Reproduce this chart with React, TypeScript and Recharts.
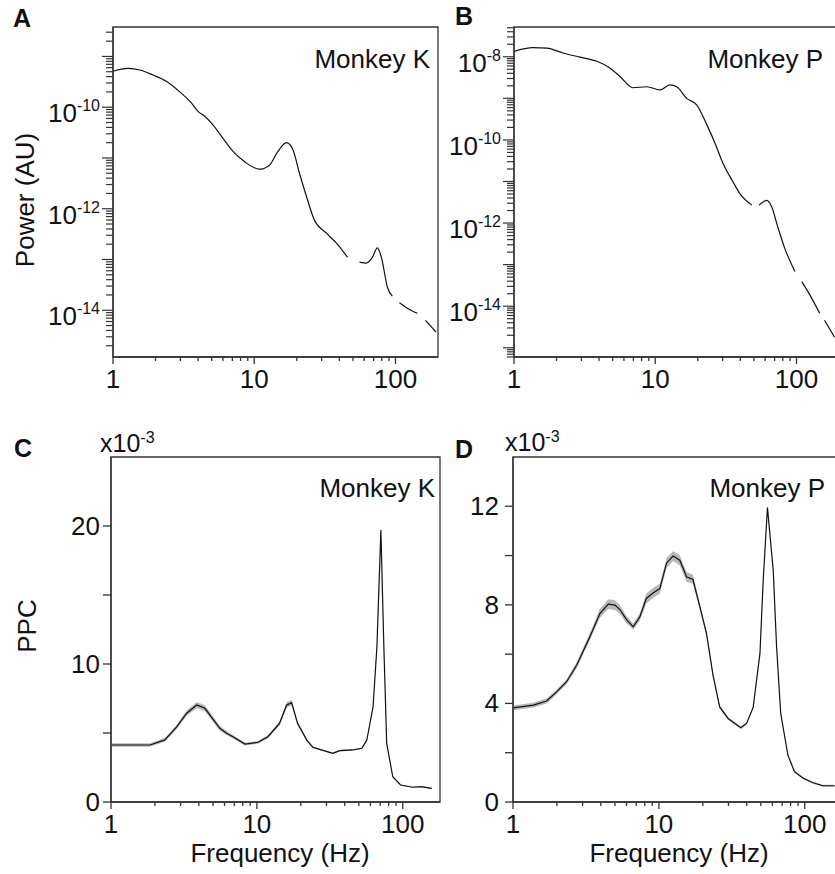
import React from 'react';
import { LineChart, ComposedChart, Line, Area, XAxis, YAxis, ReferenceArea } from 'recharts';

const FONT = '"Liberation Sans", Arial, Helvetica, sans-serif';
const INK = '#111';
const AXIS = '#333';

// A: power spectrum, monkey K (gaps = removed line-noise bands)
const freqA = [1, 1.28, 1.55, 1.92, 2.4, 2.97, 3.6, 4.0, 4.5, 5.0, 5.9, 7.0, 8.6, 10.9, 12.8, 14.6, 16.9, 18.7, 20.9, 23.5, 26.7,
  32.4, 38.2, 45.8, 50, 55.6, 62, 68.6, 74.4, 79.5, 87.8, 95, 100, 106.6, 121, 143, 150, 163, 194];
const powerA = [5.1e-10, 5.8e-10, 5.4e-10, 4.3e-10, 3.2e-10, 2.0e-10, 1.2e-10, 8.3e-11, 6.5e-11, 4.8e-11, 2.6e-11,
  1.4e-11, 8.3e-12, 6.0e-12, 7.2e-12, 1.3e-11, 2.0e-11, 1.5e-11, 5.0e-12, 1.7e-12, 5.9e-13,
  3.3e-13, 2.1e-13, 1.1e-13, null, 8.9e-14, 8.5e-14, 1.1e-13, 1.7e-13, 1.1e-13, 2.8e-14,
  1.9e-14, null, 1.4e-14, 1.1e-14, 8.7e-15, null, 6.3e-15, 3.7e-15];

// B: power spectrum, monkey P
const freqB = [1.0, 1.36, 1.71, 2.22, 2.93, 3.86, 4.77, 5.6, 6.95, 8.7, 10.8, 12.7, 14.2, 16.7, 19.7, 23.2, 26.5, 30.1, 35.4, 39.6,
  48.4, 51, 54.3, 61.6, 66.6, 73.7, 82.5, 97.5, 103, 109, 124, 146, 152, 158, 186];
const powerB = [1.35e-8, 1.66e-8, 1.62e-8, 1.23e-8, 9.8e-9, 7.8e-9, 5.4e-9, 3.4e-9, 1.8e-9, 1.9e-9,
  1.6e-9, 2.1e-9, 1.9e-9, 1.0e-9, 6.9e-10, 2.3e-10, 8.3e-11, 2.8e-11, 1.0e-11, 5.2e-12,
  2.7e-12, null, 2.7e-12, 3.5e-12, 2.5e-12, 8.1e-13, 2.5e-13, 6.8e-14, null, 3.9e-14,
  1.9e-14, 6.8e-15, null, 4.6e-15, 1.8e-15];

// C: PPC (x10^-3), monkey K
const freqC = [1, 1.85, 2.34, 2.83, 3.3, 3.87, 4.4, 5.57, 6.2, 6.85, 8.28, 10.2, 11.9, 14.3, 16.0, 17.3, 19.0, 22, 24.2, 33.1,
  37, 45.2, 52.4, 56.7, 62.6, 66.5, 70.8, 74.2, 77.6, 85.4, 96.6, 117, 134, 158];
const ppcC = [4.13, 4.13, 4.5, 5.46, 6.43, 7.03, 6.79, 5.34, 4.98, 4.73, 4.2, 4.33, 4.73, 5.7, 7.03, 7.2, 5.7, 4.49, 3.96, 3.53,
  3.72, 3.77, 3.89, 4.49, 6.9, 11.25, 19.7, 11.25, 4.25, 1.83, 1.23, 1.07, 1.11, 0.99];
const semC = [0.12, 0.12, 0.13, 0.15, 0.2, 0.22, 0.22, 0.18, 0.15, 0.13, 0.1, 0.1, 0.12, 0.15, 0.2, 0.2, 0.15, 0.1, 0.08, 0.06,
  0.06, 0.06, 0.06, 0.08, 0.1, 0.12, 0.15, 0.12, 0.08, 0.05, 0.04, 0.04, 0.04, 0.04];

// D: PPC (x10^-3), monkey P
const freqD = [1, 1.38, 1.7, 1.99, 2.33, 2.73, 3.36, 3.94, 4.5, 5.0, 5.4, 6.0, 6.67, 7.4, 8.2, 9.12, 10.15, 11.3, 12.5, 13.9,
  15.5, 17.1, 18.6, 21.2, 23.5, 26.1, 29.8, 36.4, 39.9, 44.3, 49.3, 51.9, 55.5, 60.8, 64.1, 68.4, 76.6, 85.0, 97.7, 114, 133, 160];
const ppcD = [3.82, 3.93, 4.1, 4.47, 4.88, 5.55, 6.7, 7.65, 8.03, 7.99, 7.81, 7.4, 7.11, 7.51, 8.26, 8.48, 8.66, 9.7, 9.98, 9.81,
  9.13, 9.04, 8.19, 6.84, 5.15, 3.86, 3.39, 3.01, 3.19, 3.84, 6.03, 9.0, 11.95, 9.4, 6.3, 3.6, 1.9, 1.23, 0.96, 0.78, 0.66, 0.66];
const semD = [0.1, 0.1, 0.1, 0.1, 0.1, 0.12, 0.15, 0.18, 0.2, 0.2, 0.18, 0.15, 0.12, 0.15, 0.2, 0.2, 0.2, 0.2, 0.2, 0.2,
  0.2, 0.18, 0.15, 0.1, 0.08, 0.06, 0.05, 0.05, 0.05, 0.05, 0.05, 0.05, 0.05, 0.05, 0.05, 0.04, 0.04, 0.04, 0.04, 0.04, 0.04, 0.04];

const freqTicks = [1, 2, 3, 4, 5, 6, 7, 8, 9, 10, 20, 30, 40, 50, 60, 70, 80, 90, 100];
const freqLabels = [1, 10, 100];
const powerLabelsA = [-10, -12, -14];
const powerLabelsB = [-8, -10, -12, -14];
const ppcTicksC = [0, 5, 10, 15, 20];
const ppcLabelsC = [0, 10, 20];
const ppcTicksD = [0, 2, 4, 6, 8, 10, 12];
const ppcLabelsD = [0, 4, 8, 12];

const dataA = freqA.map((f, i) => ({ f, p: powerA[i] }));
const dataB = freqB.map((f, i) => ({ f, p: powerB[i] }));
const dataC = freqC.map((f, i) => ({ f, v: ppcC[i], band: [ppcC[i] - semC[i], ppcC[i] + semC[i]] }));
const dataD = freqD.map((f, i) => ({ f, v: ppcD[i], band: [ppcD[i] - semD[i], ppcD[i] + semD[i]] }));

const logTicks = (lo, hi) => {
  const out = [];
  for (let e = -17; e <= -5; e++) {
    for (let k = 1; k <= 9; k++) {
      const v = k * Math.pow(10, e);
      if (v >= lo && v <= hi) out.push(v);
    }
  }
  return out;
};

const FreqTick = ({ x, y, payload }) => {
  const v = payload.value;
  const major = freqLabels.includes(v);
  return (
    <g>
      <line x1={x} x2={x} y1={y} y2={y + (major ? 7 : 4)} stroke={AXIS} strokeWidth={1.3} />
      {major && (
        <text x={x} y={y + 31} textAnchor="middle" fontSize={26} fill={INK} fontFamily={FONT}>{v}</text>
      )}
    </g>
  );
};

const PowerTick = ({ x, y, payload, labeled }) => {
  const v = payload.value;
  const e = Math.floor(Math.log10(v) + 1e-6);
  const decade = Math.abs(v / Math.pow(10, e) - 1) < 1e-6;
  return (
    <g>
      <line x1={x} x2={x - (decade ? 11 : 7)} y1={y} y2={y} stroke={AXIS} strokeWidth={1.2} />
      {decade && labeled.includes(e) && (
        <text x={x - 13} y={y + 15} textAnchor="end" fontSize={26} fill={INK} fontFamily={FONT}>
          10<tspan fontSize={16} dy={-11}>{e}</tspan>
        </text>
      )}
    </g>
  );
};

const PpcTick = ({ x, y, payload, labeled, gap }) => {
  const v = payload.value;
  return (
    <g>
      <line x1={x} x2={x - 8} y1={y} y2={y} stroke={AXIS} strokeWidth={1.3} />
      {labeled.includes(v) && (
        <text x={x - gap} y={y + 9} textAnchor="end" fontSize={26} fill={INK} fontFamily={FONT}>{v}</text>
      )}
    </g>
  );
};

const axisLine = { stroke: AXIS, strokeWidth: 1.3 };

const PowerPanel = ({ data, yDomain, labeled, left, yWidth, right }) => (
  <div style={{ position: 'absolute', left, top: 0 }}>
    <LineChart width={left ? 440 : 460} height={420} data={data} margin={{ top: 27, right, bottom: 0, left: 0 }}>
      <XAxis dataKey="f" type="number" scale="log" domain={[1, 200]} allowDataOverflow ticks={freqTicks}
        interval={0} height={63} tickSize={0} tickMargin={0} tickLine={false} axisLine={axisLine}
        tick={(p) => <FreqTick {...p} />} />
      <YAxis type="number" scale="log" domain={yDomain} allowDataOverflow ticks={logTicks(yDomain[0], yDomain[1])}
        interval={0} width={yWidth} tickSize={0} tickMargin={0} tickLine={false} axisLine={axisLine}
        tick={(p) => <PowerTick {...p} labeled={labeled} />} />
      <ReferenceArea x1={1} x2={200} y1={yDomain[0]} y2={yDomain[1]} fill="none" stroke={AXIS} strokeWidth={1.3} ifOverflow="visible" />
      <Line dataKey="p" type="monotone" stroke={INK} strokeWidth={1.2} dot={false} connectNulls={false} isAnimationActive={false} />
    </LineChart>
  </div>
);

const PpcPanel = ({ data, yMax, ticks, labeled, gap, left, yWidth, right }) => (
  <div style={{ position: 'absolute', left, top: 380 }}>
    <ComposedChart width={left ? 440 : 460} height={494} data={data} margin={{ top: 77, right, bottom: 0, left: 0 }}>
      <XAxis dataKey="f" type="number" scale="log" domain={[1, 180]} allowDataOverflow ticks={freqTicks}
        interval={0} height={72} tickSize={0} tickMargin={0} tickLine={false} axisLine={axisLine}
        tick={(p) => <FreqTick {...p} />} />
      <YAxis type="number" domain={[0, yMax]} allowDataOverflow ticks={ticks} interval={0} width={yWidth}
        tickSize={0} tickMargin={0} tickLine={false} axisLine={axisLine}
        tick={(p) => <PpcTick {...p} labeled={labeled} gap={gap} />} />
      <ReferenceArea x1={1} x2={180} y1={0} y2={yMax} fill="none" stroke={AXIS} strokeWidth={1.3} ifOverflow="visible" />
      <Area dataKey="band" type="linear" stroke="none" fill="#9a9a9a" fillOpacity={0.7} isAnimationActive={false} />
      <Line dataKey="v" type="linear" stroke={INK} strokeWidth={1.2} dot={false} isAnimationActive={false} />
    </ComposedChart>
  </div>
);

const txt = { fontFamily: FONT, fill: INK };

export default function App() {
  return (
    <div style={{ position: 'absolute', left: 0, top: 0, width: 835, height: 874, overflow: 'hidden', background: '#fff', fontFamily: FONT }}>
      <PowerPanel data={dataA} yDomain={[1.2e-15, 3.8e-9]} labeled={powerLabelsA} left={0} yWidth={113} right={22} />
      <PowerPanel data={dataB} yDomain={[6e-16, 5.2e-8]} labeled={powerLabelsB} left={420} yWidth={94} right={21} />
      <PpcPanel data={dataC} yMax={25} ticks={ppcTicksC} labeled={ppcLabelsC} gap={11} left={0} yWidth={111} right={20} />
      <PpcPanel data={dataD} yMax={14} ticks={ppcTicksD} labeled={ppcLabelsD} gap={14} left={420} yWidth={93} right={18} />

      <svg width={835} height={874} style={{ position: 'absolute', left: 0, top: 0, pointerEvents: 'none' }}>
        <g {...txt} fontWeight="bold" fontSize={25}>
          <text x={13} y={27}>A</text>
          <text x={455} y={25}>B</text>
          <text x={14} y={457}>C</text>
          <text x={455} y={458}>D</text>
        </g>
        <g {...txt} fontSize={26} textAnchor="end">
          <text x={430} y={68}>Monkey K</text>
          <text x={823} y={68}>Monkey P</text>
          <text x={435} y={497}>Monkey K</text>
          <text x={825} y={497}>Monkey P</text>
        </g>
        <g {...txt} fontSize={25}>
          <text x={100} y={452}>x10<tspan fontSize={16} dy={-9}>-3</tspan></text>
          <text x={505} y={451}>x10<tspan fontSize={16} dy={-9}>-3</tspan></text>
        </g>
        <g {...txt} fontSize={26} textAnchor="middle">
          <text x={25} y={200} dominantBaseline="central" transform="rotate(-90 25 200)">Power (AU)</text>
          <text x={27} y={626} dominantBaseline="central" transform="rotate(-90 27 626)">PPC</text>
          <text x={280} y={862}>Frequency (Hz)</text>
          <text x={679} y={862}>Frequency (Hz)</text>
        </g>
      </svg>
    </div>
  );
}
